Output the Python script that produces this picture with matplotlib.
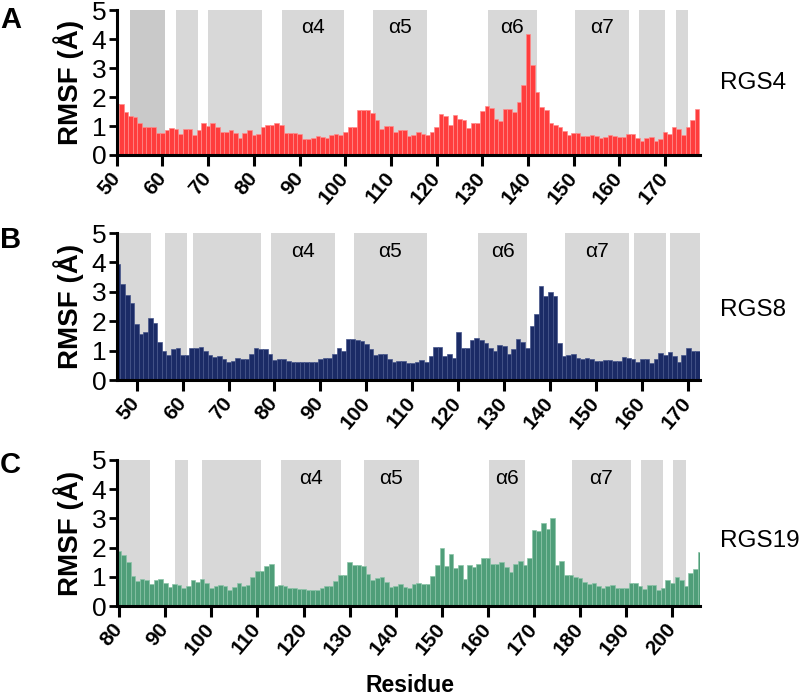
import numpy as np
import matplotlib
matplotlib.use('Agg')
import matplotlib.pyplot as plt

plt.rcParams['font.family'] = ['Liberation Sans', 'DejaVu Sans']

# -------------------------------------------------------------------------------------------------------------------- #
# RMSF per residue (Angstrom)

rgs4_start = 50
rgs4_rmsf = [1.76,
             1.76, 1.48, 1.35, 1.3, 1.1, 0.95, 0.95, 0.95, 0.75, 0.77, 0.85, 0.93, 0.9, 0.72, 0.9, 0.9, 0.7, 0.85,
             1.1, 1.0, 1.1, 0.95, 0.8, 0.8, 0.85, 0.75, 0.6, 0.75, 0.85, 0.7, 0.72, 0.95, 1.05, 1.03, 1.1, 1.05,
             0.75, 0.75, 0.75, 0.72,
             0.55, 0.55, 0.6, 0.65, 0.62, 0.6, 0.68, 0.72, 0.68, 0.78, 0.98, 0.98, 1.55, 1.55, 1.55, 1.45, 1.2,
             0.9, 1.0, 1.0, 0.78, 0.85, 0.85, 0.65, 0.7, 0.78, 0.72, 0.7, 0.8, 0.95, 1.4, 1.35, 1.05, 1.38, 1.25,
             1.22, 0.92, 1.1, 1.1, 1.52, 1.7, 1.62, 1.25,
             1.18, 1.6, 1.6, 1.5, 1.82, 2.42, 4.17, 3.12, 2.16, 1.64, 1.55, 1.1, 1.02, 0.95, 0.82, 0.7, 0.75,
             0.75, 0.65, 0.65, 0.7, 0.65, 0.6, 0.62, 0.68, 0.67, 0.62, 0.62, 0.72, 0.72, 0.6, 0.5, 0.6, 0.62,
             0.5, 0.55, 0.78, 0.72, 0.95, 0.9, 0.7, 0.95, 1.2, 1.6]

rgs8_start = 46
rgs8_rmsf = [3.95, 3.25, 2.9, 2.62, 1.9, 1.57, 1.62, 2.1, 1.93, 1.28, 1.0, 0.85, 1.05, 1.1, 0.85, 0.85, 1.1, 1.1,
             1.12, 1.0, 0.85, 0.78, 0.8, 0.72, 0.6, 0.65, 0.75, 0.7, 0.7, 0.9, 1.1, 1.05, 1.05, 0.9, 0.68, 0.7,
             0.7, 0.65, 0.62, 0.6,
             0.62, 0.6, 0.6, 0.6, 0.7, 0.75, 0.75, 0.88, 1.1, 1.0, 1.38, 1.38, 1.35, 1.32, 1.22, 1.05, 0.85,
             0.88, 0.88, 0.72, 0.6, 0.65, 0.65, 0.58, 0.58, 0.6, 0.68, 0.6, 0.82, 1.12, 1.12, 0.8, 0.88, 0.75,
             1.65, 1.1, 1.1, 1.35, 1.42, 1.35, 1.25, 1.1, 0.98, 1.18, 1.15, 0.9, 1.05, 1.4, 1.3, 1.1, 1.85, 2.25,
             3.2, 2.85, 3.0, 2.85, 1.25, 0.82, 0.85, 0.88, 0.75, 0.72, 0.75, 0.7, 0.65, 0.65, 0.68, 0.68, 0.65,
             0.65, 0.78, 0.76, 0.7, 0.6, 0.72, 0.72, 0.58, 0.7, 0.92, 0.85, 0.95, 0.82, 0.62, 0.85, 1.1, 1.0, 0.98]

rgs19_start = 80
rgs19_rmsf = [1.9, 1.75, 1.5, 1.02, 0.85, 0.92, 0.9, 0.75, 0.88, 0.92, 0.8, 0.65, 0.75, 0.72, 0.6, 0.7, 0.88, 0.82,
              0.92, 0.8, 0.62, 0.68, 0.72, 0.68, 0.55, 0.65, 0.78, 0.68, 0.72, 0.98, 1.2, 1.2, 1.38, 1.45, 0.68,
              0.72, 0.7, 0.6, 0.6, 0.58, 0.58, 0.55, 0.55, 0.55, 0.6, 0.68, 0.68, 0.85, 1.05, 1.05, 1.5, 1.4, 1.4,
              1.38, 1.1, 0.9, 0.95, 0.98, 0.82, 0.65, 0.7, 0.75, 0.65, 0.62, 0.75, 0.8, 0.75, 0.75, 1.02, 1.42,
              2.0, 1.38, 1.78, 1.3, 1.42, 0.92, 1.42, 1.32, 1.45, 1.65, 1.65, 1.45, 1.45, 1.52, 1.32, 1.15, 1.45,
              1.55, 1.42, 1.65, 2.6, 2.58, 2.85, 2.65, 3.0, 1.42, 1.55, 1.05, 1.05, 0.98, 0.95, 0.82, 0.75, 0.78,
              0.68, 0.6, 0.68, 0.72, 0.6, 0.6, 0.62, 0.78, 0.78, 0.68, 0.58, 0.72, 0.72, 0.55, 0.6, 0.88, 0.8, 1.0,
              0.88, 0.68, 1.12, 1.28, 1.85]

# helix spans (start, end residue) shown as grey blocks
helix_names = ['', '', '', 'α4', 'α5', 'α6', 'α7', '', '']
rgs4_helices = [(52.85, 60.66), (62.85, 67.67), (69.86, 81.68), (86.06, 99.77), (106.1, 117.9), (131.2, 142.0),
                (150.2, 162.1), (164.2, 170.1), (172.3, 175.1)]
rgs8_helices = [(46.2, 53.03), (56.14, 61.0), (62.17, 77.0), (79.14, 93.13), (97.26, 113.1), (124.3, 135.0),
                (143.2, 157.1), (158.2, 165.1), (166.1, 172.55)]
rgs19_helices = [(80.0, 86.8), (92.1, 94.84), (98.0, 110.75), (115.1, 128.05), (133.1, 145.04), (160.2, 168.04),
                 (178.24, 191.0), (193.15, 198.05), (200.2, 202.9)]

panel_letters = ['A', 'B', 'C']
protein_names = ['RGS4', 'RGS8', 'RGS19']


# -------------------------------------------------------------------------------------------------------------------- #
def rmsfPanel(fig, rect, start, rmsf, helices, xlim, xticks, color, edge, first_dark=False):
    """Draws one RMSF bar panel with the helix blocks behind it."""

    ax = fig.add_axes(rect)
    res = np.arange(start, start + len(rmsf))

    for i, (h0, h1) in enumerate(helices):
        shade = '#c9c9c9' if (first_dark and i == 0) else '#d8d8d8'
        ax.axvspan(h0, h1, color=shade, lw=0, zorder=0)
        if helix_names[i]:
            ax.text((h0 + h1) / 2, 4.38, helix_names[i], ha='center', va='center', fontsize=15, zorder=3)

    ax.bar(res, rmsf, width=1.0, color=color, edgecolor=edge, linewidth=0.5, zorder=2)

    ax.set_xlim(*xlim)
    ax.set_ylim(0, 5)
    ax.set_yticks(range(0, 6))
    ax.set_xticks(xticks)
    ax.set_xticklabels([str(t) for t in xticks], rotation=50, ha='right', va='center',
                       rotation_mode='anchor', fontweight='bold', fontsize=15)

    for side in ['top', 'right']:
        ax.spines[side].set_visible(False)
    for side in ['left', 'bottom']:
        ax.spines[side].set_linewidth(2.2)
    ax.tick_params(axis='y', labelsize=19, width=2.0, length=6, pad=1.5)
    ax.tick_params(axis='x', width=2.2, length=8, pad=6)
    ax.set_axisbelow(False)
    return ax


# -------------------------------------------------------------------------------------------------------------------- #
fig = plt.figure(figsize=(8.0, 6.96), dpi=100)

rects = [[0.146, 0.7773, 0.729, 0.2083],
         [0.146, 0.4540, 0.729, 0.2112],
         [0.146, 0.1293, 0.729, 0.2098]]

rmsfPanel(fig, rects[0], rgs4_start, rgs4_rmsf, rgs4_helices, (50, 177.66), range(50, 171, 10),
          '#ff3d3d', '#ff8c8c', first_dark=True)
rmsfPanel(fig, rects[1], rgs8_start, rgs8_rmsf, rgs8_helices, (45.7, 172.55), range(50, 171, 10),
          '#1b2b66', '#46558a')
rmsfPanel(fig, rects[2], rgs19_start, rgs19_rmsf, rgs19_helices, (79.5, 206.0), range(80, 201, 10),
          '#4f9e79', '#8cc4a8')

letter_y = [1 - 6 / 696, 1 - 226 / 696, 1 - 451 / 696]
name_y = [1 - 83 / 696, 1 - 310 / 696, 1 - 541 / 696]
for i in range(3):
    r = rects[i]
    fig.text(0.0, letter_y[i], panel_letters[i], fontsize=21, fontweight='bold', va='top', ha='left')
    fig.text(0.086, r[1] + r[3] / 2, 'RMSF (Å)', rotation=90, fontsize=20, fontweight='bold',
             ha='center', va='center')
    fig.text(0.9, name_y[i], protein_names[i], fontsize=17.5, ha='left', va='center')

fig.text(0.512, 1 - 686 / 696, 'Residue', fontsize=16.5, fontweight='bold', ha='center', va='center')

fig.savefig('out.png', dpi=100)
